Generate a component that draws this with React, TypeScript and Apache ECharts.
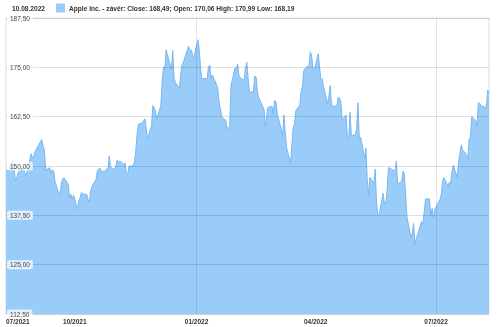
import React, { useEffect, useRef } from 'react';
import * as echarts from 'echarts';

const headerDate = '10.08.2022';
const seriesName = 'Apple Inc. - závěr: Close: 168,49; Open: 170,06 High: 170,99 Low: 168,19';

const dates = [
  '2021-08-10', '2021-08-11', '2021-08-12', '2021-08-15', '2021-08-16', '2021-08-17', '2021-08-18', '2021-08-19',
  '2021-08-22', '2021-08-23', '2021-08-24', '2021-08-25', '2021-08-26', '2021-08-29', '2021-08-30',
  '2021-08-31', '2021-09-01', '2021-09-02', '2021-09-06', '2021-09-07', '2021-09-08', '2021-09-09', '2021-09-12',
  '2021-09-13', '2021-09-14', '2021-09-15', '2021-09-16', '2021-09-19', '2021-09-20', '2021-09-21', '2021-09-22',
  '2021-09-23', '2021-09-26', '2021-09-27', '2021-09-28', '2021-09-29',
  '2021-09-30', '2021-10-03', '2021-10-04', '2021-10-05', '2021-10-06', '2021-10-07', '2021-10-10', '2021-10-11',
  '2021-10-12', '2021-10-13', '2021-10-14', '2021-10-17', '2021-10-18', '2021-10-19', '2021-10-20', '2021-10-21',
  '2021-10-24', '2021-10-25', '2021-10-26', '2021-10-27', '2021-10-28',
  '2021-10-31', '2021-11-01', '2021-11-02', '2021-11-03', '2021-11-04', '2021-11-07', '2021-11-08', '2021-11-09',
  '2021-11-10', '2021-11-11', '2021-11-14', '2021-11-15', '2021-11-16', '2021-11-17', '2021-11-18', '2021-11-21',
  '2021-11-22', '2021-11-23', '2021-11-25', '2021-11-28', '2021-11-29',
  '2021-11-30', '2021-12-01', '2021-12-02', '2021-12-05', '2021-12-06', '2021-12-07', '2021-12-08', '2021-12-09',
  '2021-12-12', '2021-12-13', '2021-12-14', '2021-12-15', '2021-12-16', '2021-12-19', '2021-12-20', '2021-12-21',
  '2021-12-22', '2021-12-26', '2021-12-27', '2021-12-28', '2021-12-29', '2021-12-30',
  '2022-01-02', '2022-01-03', '2022-01-04', '2022-01-05', '2022-01-06', '2022-01-09', '2022-01-10', '2022-01-11',
  '2022-01-12', '2022-01-13', '2022-01-17', '2022-01-18', '2022-01-19', '2022-01-20', '2022-01-23', '2022-01-24',
  '2022-01-25', '2022-01-26', '2022-01-27', '2022-01-30',
  '2022-01-31', '2022-02-01', '2022-02-02', '2022-02-03', '2022-02-06', '2022-02-07', '2022-02-08', '2022-02-09',
  '2022-02-10', '2022-02-13', '2022-02-14', '2022-02-15', '2022-02-16', '2022-02-17', '2022-02-21', '2022-02-22',
  '2022-02-23', '2022-02-24', '2022-02-27',
  '2022-02-28', '2022-03-01', '2022-03-02', '2022-03-03', '2022-03-06', '2022-03-07', '2022-03-08', '2022-03-09',
  '2022-03-10', '2022-03-13', '2022-03-14', '2022-03-15', '2022-03-16', '2022-03-17', '2022-03-20', '2022-03-21',
  '2022-03-22', '2022-03-23', '2022-03-24', '2022-03-27', '2022-03-28', '2022-03-29', '2022-03-30',
  '2022-03-31', '2022-04-03', '2022-04-04', '2022-04-05', '2022-04-06', '2022-04-07', '2022-04-10', '2022-04-11',
  '2022-04-12', '2022-04-13', '2022-04-17', '2022-04-18', '2022-04-19', '2022-04-20', '2022-04-21', '2022-04-24',
  '2022-04-25', '2022-04-26', '2022-04-27', '2022-04-28',
  '2022-05-01', '2022-05-02', '2022-05-03', '2022-05-04', '2022-05-05', '2022-05-08', '2022-05-09', '2022-05-10',
  '2022-05-11', '2022-05-12', '2022-05-15', '2022-05-16', '2022-05-17', '2022-05-18', '2022-05-19', '2022-05-22',
  '2022-05-23', '2022-05-24', '2022-05-25', '2022-05-26', '2022-05-30',
  '2022-05-31', '2022-06-01', '2022-06-02', '2022-06-05', '2022-06-06', '2022-06-07', '2022-06-08', '2022-06-09',
  '2022-06-12', '2022-06-13', '2022-06-14', '2022-06-15', '2022-06-16', '2022-06-20', '2022-06-21', '2022-06-22',
  '2022-06-23', '2022-06-26', '2022-06-27', '2022-06-28', '2022-06-29',
  '2022-06-30', '2022-07-04', '2022-07-05', '2022-07-06', '2022-07-07', '2022-07-10', '2022-07-11', '2022-07-12',
  '2022-07-13', '2022-07-14', '2022-07-17', '2022-07-18', '2022-07-19', '2022-07-20', '2022-07-21', '2022-07-24',
  '2022-07-25', '2022-07-26', '2022-07-27', '2022-07-28',
  '2022-07-31', '2022-08-01', '2022-08-02', '2022-08-03', '2022-08-04', '2022-08-07', '2022-08-08', '2022-08-09',
  '2022-08-10',
];

const closes = [
  149.0, 148.89, 149.10, 151.12, 150.19, 146.36, 146.70, 148.19,
  149.71, 149.62, 148.36, 147.54, 148.60, 153.12, 151.83,
  152.51, 153.65, 154.30, 156.69, 155.11, 154.07, 148.97, 149.55,
  148.12, 149.03, 148.79, 146.06, 142.94, 143.43, 145.85, 146.83,
  146.92, 145.37, 141.91, 142.83, 141.50,
  142.65, 139.14, 141.11, 142.00, 143.29, 142.90, 142.81, 141.51,
  140.91, 143.76, 144.84, 146.55, 148.76, 149.26, 149.48, 148.69,
  148.64, 149.32, 148.85, 152.57, 149.80,
  148.96, 150.02, 151.49, 150.96, 151.28, 150.44, 150.81, 147.92,
  147.87, 149.99, 150.00, 151.00, 153.49, 157.87, 160.55, 161.02,
  161.41, 161.94, 156.81, 160.24, 165.30,
  164.77, 163.76, 161.84, 165.32, 171.18, 175.08, 174.56, 179.45,
  175.74, 174.33, 179.30, 172.26, 171.14, 169.75, 172.99, 175.64,
  176.28, 180.33, 179.29, 179.38, 178.20, 177.57,
  182.01, 179.70, 174.92, 172.00, 172.17, 172.19, 175.08, 175.53,
  172.19, 173.07, 169.80, 166.23, 164.51, 162.41, 161.62, 159.78,
  159.69, 159.22, 170.33, 174.78,
  174.61, 175.84, 172.90, 172.39, 171.66, 174.83, 176.28, 172.12,
  168.64, 168.88, 172.79, 172.55, 168.88, 167.30, 164.32, 160.07,
  162.74, 164.85, 165.12,
  163.20, 166.56, 166.23, 163.17, 159.30, 157.44, 162.95, 158.52,
  154.73, 150.62, 155.09, 159.59, 160.62, 163.98, 165.38, 168.82,
  170.21, 174.07, 174.72, 175.60, 178.96, 177.77, 174.61,
  174.31, 178.44, 175.06, 171.83, 172.14, 170.09, 165.75, 167.66,
  170.40, 165.29, 165.07, 167.40, 167.23, 166.42, 161.79, 162.88,
  156.80, 156.57, 163.64, 157.65,
  157.96, 159.48, 166.02, 156.77, 157.28, 152.06, 154.51, 146.50,
  142.56, 147.11, 145.54, 149.24, 140.82, 137.35, 137.59, 143.11,
  140.36, 140.52, 143.78, 149.64, 148.84,
  148.71, 151.21, 145.38, 146.14, 148.71, 147.96, 142.64, 137.13,
  131.88, 132.76, 135.43, 130.06, 131.56, 135.87, 135.35, 138.27,
  141.66, 141.66, 137.44, 139.23, 136.72,
  138.93, 141.56, 142.92, 146.35, 147.04, 144.87, 145.86, 145.49,
  148.47, 150.17, 147.07, 151.00, 153.04, 155.35, 154.09, 152.95,
  151.60, 156.79, 157.35, 162.51,
  161.51, 160.01, 166.13, 165.81, 165.35, 164.87, 164.92, 169.24,
  168.49,
];

const xMinDate = '2021-08-10';
const xMaxDate = '2022-08-10';
const xTickDates = ['2021-08-10', '2021-10-01', '2022-01-01', '2022-04-01', '2022-07-01'];
const xTickLabels = ['07/2021', '10/2021', '01/2022', '04/2022', '07/2022'];
const xSplitDates = ['2022-01-01', '2022-07-01'];
const yMin = 112.5;
const yMax = 187.5;
const yStep = 12.5;

const ts = (s: string) => {
  const [y, m, d] = s.split('-').map(Number);
  return Date.UTC(y, m - 1, d);
};

export default function App() {
  const ref = useRef<HTMLDivElement>(null);

  useEffect(() => {
    if (!ref.current) return;
    const chart = echarts.init(ref.current, undefined, { renderer: 'svg' });
    const tickTs = xTickDates.map(ts);
    const font = 'Arial, "Liberation Sans", sans-serif';
    chart.setOption({
      animation: false,
      textStyle: { fontFamily: font },
      title: {
        text: headerDate,
        left: 12,
        top: 4.7,
        padding: 0,
        textStyle: { fontSize: 6.6, fontWeight: 'bold', color: '#333', fontFamily: font },
      },
      legend: {
        left: 56,
        top: 3.5,
        padding: 0,
        icon: 'rect',
        itemWidth: 9,
        itemHeight: 9,
        itemGap: 4,
        textStyle: { fontSize: 6.6, fontWeight: 'bold', color: '#333', fontFamily: font, padding: [0, 0, 0, -1] },
        data: [{ name: seriesName, itemStyle: { color: '#99ccf9', borderWidth: 0 } }],
      },
      grid: {
        left: 6,
        right: 11,
        top: 18,
        bottom: 13,
        show: true,
        borderColor: '#dcdcdc',
        borderWidth: 1,
      },
      xAxis: {
        type: 'value',
        min: ts(xMinDate),
        max: ts(xMaxDate),
        axisLine: { show: false },
        axisTick: { show: false },
        splitLine: { show: false },
        axisLabel: {
          customValues: tickTs,
          formatter: (v: number) => {
            const i = tickTs.indexOf(v);
            return i >= 0 ? xTickLabels[i] : '';
          },
          showMinLabel: true,
          alignMinLabel: 'left',
          hideOverlap: false,
          margin: 4,
          fontSize: 6.5,
          fontWeight: 'bold',
          color: '#333',
          fontFamily: font,
        },
      },
      yAxis: {
        type: 'value',
        min: yMin,
        max: yMax,
        interval: yStep,
        z: 10,
        axisLine: { show: false },
        axisTick: { show: false },
        splitLine: { show: true, lineStyle: { color: 'rgba(0,0,0,0.12)', width: 1 } },
        axisLabel: {
          inside: true,
          margin: 1,
          fontSize: 6.5,
          color: '#444',
          fontFamily: font,
          backgroundColor: 'rgba(255,255,255,0.72)',
          borderRadius: 2,
          padding: [1, 3, 1, 3],
          formatter: (v: number) => v.toFixed(2).replace('.', ','),
        },
      },
      series: [
        {
          name: seriesName,
          type: 'line',
          data: dates.map((d, i) => [ts(d), closes[i]]),
          showSymbol: false,
          symbol: 'none',
          lineStyle: { color: '#78b7f0', width: 1 },
          itemStyle: { color: '#99ccf9' },
          areaStyle: { color: '#99ccf9', opacity: 1 },
          markLine: {
            silent: true,
            symbol: ['none', 'none'],
            label: { show: false },
            lineStyle: { color: 'rgba(0,0,0,0.1)', width: 1, type: 'solid' },
            data: xSplitDates.map((d) => ({ xAxis: ts(d) })),
          },
        },
      ],
    });
    return () => chart.dispose();
  }, []);

  return <div ref={ref} style={{ position: 'fixed', left: 0, top: 0, width: 500, height: 327 }} />;
}
